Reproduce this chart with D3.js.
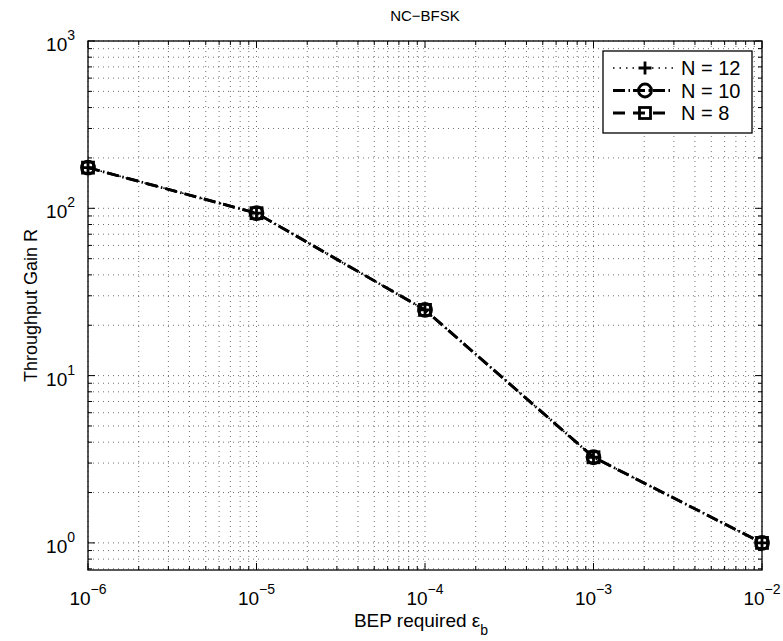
<!DOCTYPE html>
<html>
<head>
<meta charset="utf-8" />
<script src="https://cdn.jsdelivr.net/npm/d3@7"></script>
<style>
    body { margin: 0; background: #fff; }
    text { font-family: "Liberation Sans", Arial, sans-serif; fill: #000; }
</style>
</head>
<body>
<script>
    // data
    var bep = [1e-6, 1e-5, 1e-4, 1e-3, 1e-2];
    var gainN12 = [175, 93.5, 24.7, 3.25, 1];
    var gainN10 = [175, 93.5, 24.7, 3.25, 1];
    var gainN8 = [175, 93.5, 24.7, 3.25, 1];
    var seriesNames = ["N = 12", "N = 10", "N = 8"];
    var xTickExp = [-6, -5, -4, -3, -2];
    var yTickExp = [0, 1, 2, 3];

    var svgWidth = 783, svgHeight = 641;
    var margin = {top: 41, right: 21, bottom: 71, left: 88},
        width = svgWidth - margin.left - margin.right,
        height = svgHeight - margin.top - margin.bottom;

    var svg = d3.select("body").append("svg")
        .attr("width", svgWidth)
        .attr("height", svgHeight);

    var g = svg.append("g")
        .attr("transform", "translate(" + margin.left + "," + margin.top + ")");

    var x = d3.scaleLog().domain([1e-6, 1e-2]).range([0, width]);
    var y = d3.scaleLog().domain([Math.pow(10, -0.162), 1000]).range([height, 0]);

    // minor tick values
    var xMinor = [], yMinor = [];
    xTickExp.slice(0, -1).forEach(function(e) {
        for (var k = 2; k <= 9; k++) xMinor.push(k * Math.pow(10, e));
    });
    [-1, 0, 1, 2].forEach(function(e) {
        for (var k = 2; k <= 9; k++) {
            var v = k * Math.pow(10, e);
            if (v >= y.domain()[0] && v <= 1000) yMinor.push(v);
        }
    });
    var xMajor = xTickExp.map(function(e) { return Math.pow(10, e); });
    var yMajor = yTickExp.map(function(e) { return Math.pow(10, e); });

    // grid (dotted, major and minor)
    var grid = g.append("g").attr("stroke", "#333").attr("stroke-width", 0.7)
        .attr("stroke-dasharray", "1,4");
    xMajor.concat(xMinor).forEach(function(v) {
        grid.append("line").attr("x1", x(v)).attr("x2", x(v)).attr("y1", 0).attr("y2", height);
    });
    yMajor.concat(yMinor).forEach(function(v) {
        grid.append("line").attr("y1", y(v)).attr("y2", y(v)).attr("x1", 0).attr("x2", width);
    });

    // ticks on all four sides, pointing inward
    var ticks = g.append("g").attr("stroke", "#000").attr("stroke-width", 1);
    function xTick(v, len) {
        ticks.append("line").attr("x1", x(v)).attr("x2", x(v)).attr("y1", height).attr("y2", height - len);
        ticks.append("line").attr("x1", x(v)).attr("x2", x(v)).attr("y1", 0).attr("y2", len);
    }
    function yTick(v, len) {
        ticks.append("line").attr("y1", y(v)).attr("y2", y(v)).attr("x1", 0).attr("x2", len);
        ticks.append("line").attr("y1", y(v)).attr("y2", y(v)).attr("x1", width).attr("x2", width - len);
    }
    xMajor.forEach(function(v) { xTick(v, 7); });
    xMinor.forEach(function(v) { xTick(v, 4); });
    yMajor.forEach(function(v) { yTick(v, 7); });
    yMinor.forEach(function(v) { yTick(v, 4); });

    g.append("rect").attr("width", width).attr("height", height)
        .attr("fill", "none").attr("stroke", "#000").attr("stroke-width", 1.3);

    // tick labels: 10 with superscript
    xTickExp.forEach(function(e) {
        var t = g.append("text")
            .attr("x", x(Math.pow(10, e)))
            .attr("y", height + 35)
            .attr("text-anchor", "middle")
            .style("font-size", "19px");
        t.append("tspan").text("10");
        t.append("tspan").attr("dy", -11).style("font-size", "14px").text(String(e).replace("-", "\u2212"));
    });
    yTickExp.forEach(function(e) {
        var t = g.append("text")
            .attr("x", -13)
            .attr("y", y(Math.pow(10, e)) + 10)
            .attr("text-anchor", "end")
            .style("font-size", "19px");
        t.append("tspan").text("10");
        t.append("tspan").attr("dy", -11).style("font-size", "14px").text(e);
    });

    // titles
    svg.append("text")
        .attr("x", margin.left + width / 2).attr("y", 21)
        .attr("text-anchor", "middle").style("font-size", "15px")
        .text("NC\u2212BFSK");
    var xl = svg.append("text")
        .attr("x", margin.left + width / 2 - 4).attr("y", 627)
        .attr("text-anchor", "middle").style("font-size", "19px");
    xl.append("tspan").text("BEP required \u03b5");
    xl.append("tspan").attr("dy", 8).style("font-size", "14px").text("b");
    svg.append("text")
        .attr("transform", "translate(37," + (margin.top + height / 2) + ") rotate(-90)")
        .attr("text-anchor", "middle").style("font-size", "18px")
        .text("Throughput Gain R");

    // series (the three curves lie on top of each other)
    var series = [
        {name: seriesNames[0], values: gainN12, dash: "1.5,5", lw: 1.6, marker: "plus"},
        {name: seriesNames[1], values: gainN10, dash: "12,3.5,1.5,3", lw: 2.8, marker: "circle"},
        {name: seriesNames[2], values: gainN8, dash: "12,8", lw: 2.8, marker: "square"}
    ];

    var line = d3.line()
        .x(function(d) { return x(d[0]); })
        .y(function(d) { return y(d[1]); });

    function drawMarker(sel, type, cx, cy) {
        if (type === "plus") {
            sel.append("path")
                .attr("d", "M" + (cx - 6.5) + "," + cy + "H" + (cx + 6.5) + "M" + cx + "," + (cy - 6.5) + "V" + (cy + 6.5))
                .attr("stroke", "#000").attr("stroke-width", 2.8).attr("fill", "none");
        } else if (type === "circle") {
            sel.append("circle").attr("cx", cx).attr("cy", cy).attr("r", 6.5)
                .attr("stroke", "#000").attr("stroke-width", 2.8).attr("fill", "none");
        } else {
            sel.append("rect").attr("x", cx - 5.5).attr("y", cy - 5.5).attr("width", 11).attr("height", 11)
                .attr("stroke", "#000").attr("stroke-width", 2.8).attr("fill", "none");
        }
    }

    var plot = g.append("g");
    series.forEach(function(s) {
        var pts = bep.map(function(b, i) { return [b, s.values[i]]; });
        plot.append("path").datum(pts)
            .attr("d", line)
            .attr("fill", "none").attr("stroke", "#000").attr("stroke-width", s.lw)
            .attr("stroke-dasharray", s.dash);
        pts.forEach(function(p) { drawMarker(plot, s.marker, x(p[0]), y(p[1])); });
    });

    // legend
    var lg = svg.append("g").attr("transform", "translate(603,51)");
    lg.append("rect").attr("width", 149).attr("height", 82)
        .attr("fill", "#fff").attr("stroke", "#000").attr("stroke-width", 1.3);
    series.forEach(function(s, i) {
        var cy = 17 + i * 22.5;
        lg.append("line").attr("x1", 10).attr("x2", 70).attr("y1", cy).attr("y2", cy)
            .attr("stroke", "#000").attr("stroke-width", s.lw).attr("stroke-dasharray", s.dash);
        drawMarker(lg, s.marker, 42, cy);
        lg.append("text").attr("x", 78).attr("y", cy + 7).style("font-size", "20px").text(s.name);
    });
</script>
</body>
</html>
